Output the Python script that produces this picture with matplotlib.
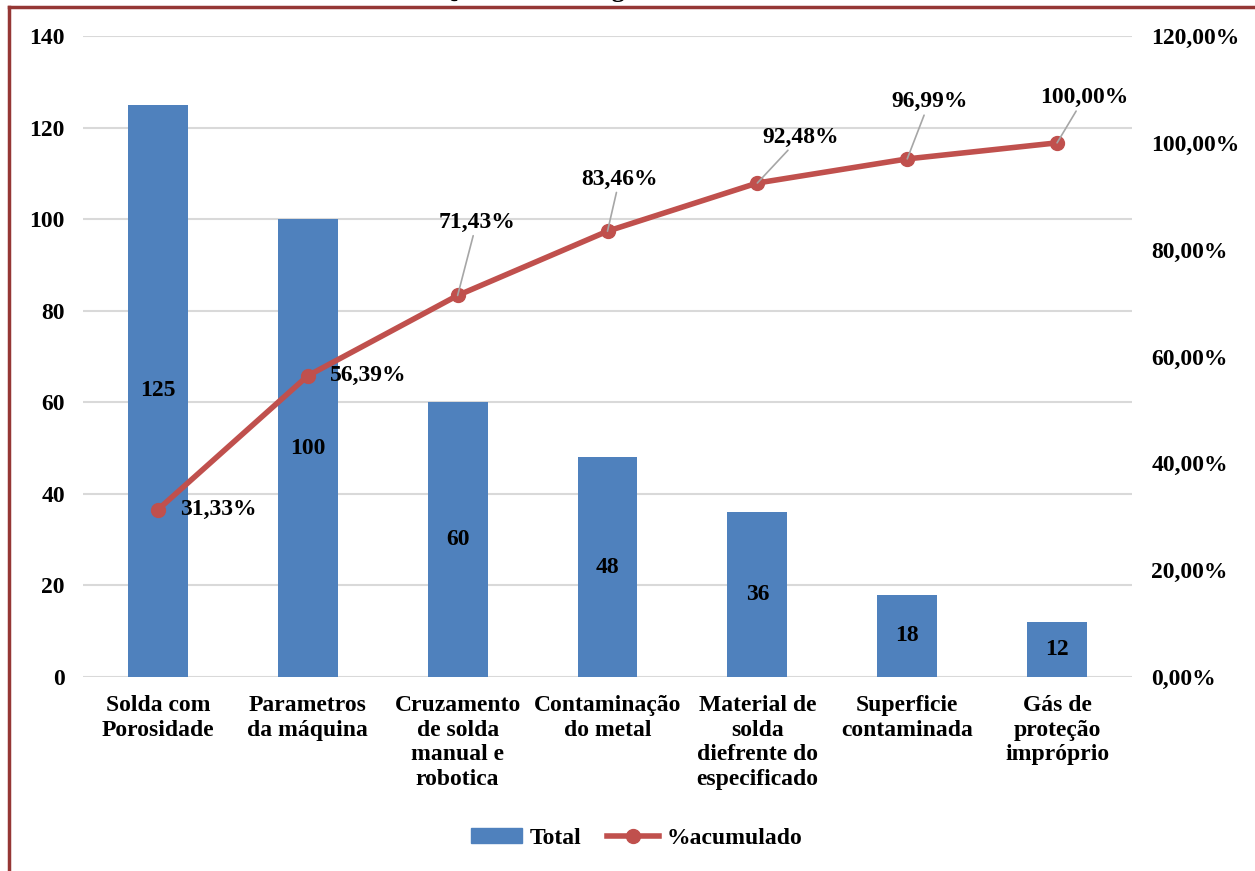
import numpy as np
import matplotlib.pyplot as plt
from matplotlib.lines import Line2D

categories = ["Solda com\nPorosidade", "Parametros\nda máquina", "Cruzamento\nde solda\nmanual e\nrobotica",
              "Contaminação\ndo metal", "Material de\nsolda\ndiefrente do\nespecificado",
              "Superficie\ncontaminada", "Gás de\nproteção\nimpróprio"]
totals = [125, 100, 60, 48, 36, 18, 12]
acumulado = [31.33, 56.39, 71.43, 83.46, 92.48, 96.99, 100.00]
pct_labels = ["31,33%", "56,39%", "71,43%", "83,46%", "92,48%", "96,99%", "100,00%"]
y_ticks = [0, 20, 40, 60, 80, 100, 120, 140]
y2_ticks = [0, 20, 40, 60, 80, 100, 120]

BLUE = "#4F81BD"
RED = "#C0504D"
FONT = "Liberation Serif"
FS = 17

plt.rcParams['font.family'] = FONT
plt.rcParams['font.weight'] = 'bold'

fig = plt.figure(figsize=(12.55, 8.71), dpi=100)
ax = fig.add_axes([83 / 1255, 1 - 677 / 871, (1132 - 83) / 1255, (677 - 36) / 871])
x = np.arange(len(categories))

ax.bar(x, totals, width=0.4, color=BLUE, zorder=2)
ax.set_xlim(-0.5, len(categories) - 0.5)
ax.set_ylim(0, 140)
ax.set_yticks(y_ticks)
ax.yaxis.grid(True, color="#D9D9D9", linewidth=1.5, zorder=0)
ax.set_axisbelow(True)
for s in ax.spines.values():
    s.set_visible(False)
ax.tick_params(length=0, labelsize=FS, pad=13)
ax.set_xticks(x)
ax.set_xticklabels(categories, fontsize=FS, fontweight='bold', linespacing=1.22, va='top')
ax.tick_params(axis='x', pad=13)

# value labels in middle of bars
for xi, v in zip(x, totals):
    ax.text(xi, v / 2, str(v), ha='center', va='center', fontsize=FS, fontweight='bold', zorder=4)

ax2 = ax.twinx()
ax2.set_ylim(0, 120)
ax2.set_yticks(y2_ticks)
ax2.set_yticklabels([f"{t},00%" for t in y2_ticks])
for s in ax2.spines.values():
    s.set_visible(False)
ax2.tick_params(length=0, labelsize=FS, pad=14)
ax2.plot(x, acumulado, color=RED, linewidth=4, marker='o', markersize=10, zorder=5)

# percent labels (offsets in pixels from the point to the label centre)
offsets = [(22, 0), (22, 0), (19, 73), (12, 52), (43, 46), (22, 57), (27, 45)]
for i, (xi, v) in enumerate(zip(x, acumulado)):
    dx, dy = offsets[i]
    if i < 2:
        ax2.annotate(pct_labels[i], (xi, v), xytext=(dx, 0), textcoords='offset pixels',
                     ha='left', va='center', fontsize=FS, fontweight='bold', zorder=6)
    else:
        ax2.annotate(pct_labels[i], (xi, v), xytext=(dx, dy), textcoords='offset pixels',
                     ha='center', va='center', fontsize=FS, fontweight='bold', zorder=6,
                     arrowprops=dict(arrowstyle='-', color='#A6A6A6', lw=1.2, shrinkA=0, shrinkB=0))

# legend
handles = [plt.Rectangle((0, 0), 1, 1, color=BLUE),
           Line2D([0], [0], color=RED, linewidth=4, marker='o', markersize=10)]
fig.legend(handles, ["Total", "%acumulado"], loc='center', bbox_to_anchor=(0.507, 1 - 838 / 871),
           ncol=2, frameon=False, prop={'family': FONT, 'weight': 'bold', 'size': FS},
           handlelength=2.2, handleheight=0.6, columnspacing=1.1, handletextpad=0.3)

# title mostly cut off at the top, and frame border
fig.text(0.493, 1 + 2.5 / 871, "Quadro 4 – Diagrama de Pareto", ha='center', va='baseline',
         fontsize=19, fontweight='bold')
fig.add_artist(Line2D([9 / 1255, 9 / 1255], [0, 1 - 7 / 871], color="#953735", linewidth=2.5))
fig.add_artist(Line2D([9 / 1255, 1], [1 - 7 / 871, 1 - 7 / 871], color="#953735", linewidth=2.5))

fig.savefig("out.png", dpi=100)
